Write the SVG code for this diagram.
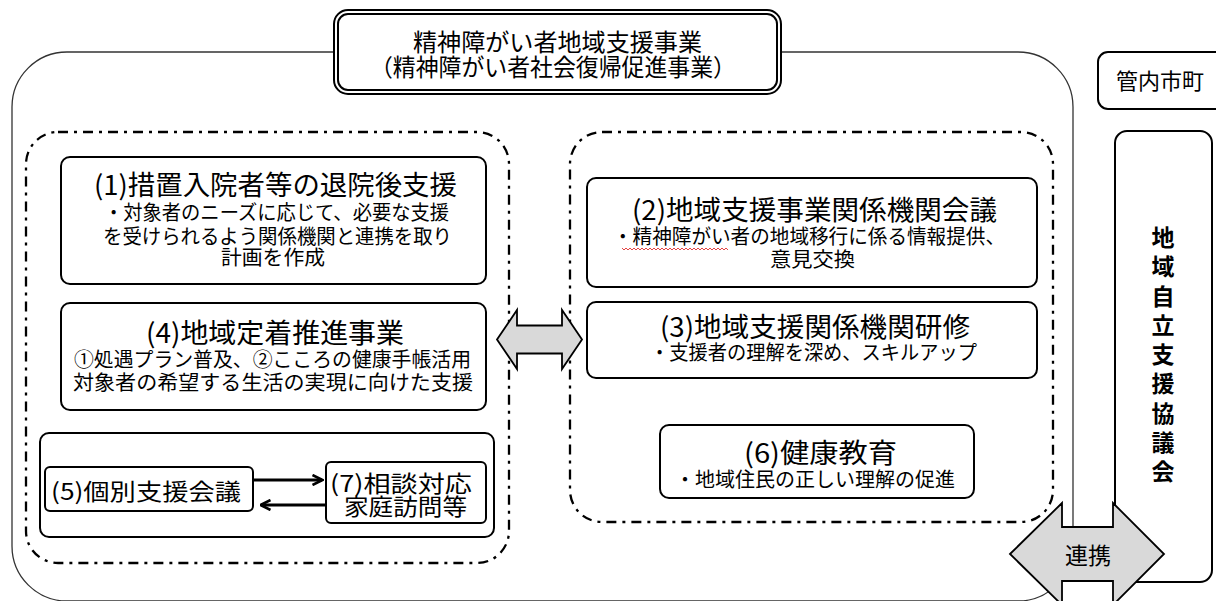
<svg xmlns="http://www.w3.org/2000/svg" width="1216" height="601" viewBox="0 0 1216 601">
<style>
text{font-family:"Noto Sans CJK JP","Noto Sans CJK SC",sans-serif;fill:#000;text-anchor:middle}
.t{font-size:27px}
.b{font-size:20px}
.box{fill:#fff;stroke:#000;stroke-width:2}
.dd{fill:none;stroke:#000;stroke-width:2.3;stroke-dasharray:10 6 3 6}
.big{fill:#d9d9d9;stroke:#000;stroke-width:1.8;stroke-linejoin:miter}
.con{fill:none;stroke:#000;stroke-width:3}
</style>
<defs>
<marker id="open" viewBox="0 0 12 12" refX="10.5" refY="6" markerWidth="12" markerHeight="12" markerUnits="userSpaceOnUse" orient="auto">
<path d="M1,1 L11,6 L1,11" fill="none" stroke="#000" stroke-width="2.6"/>
</marker>
</defs>

<g id="outer">
<rect x="12" y="52" width="1061" height="549" rx="55" fill="none" stroke="#333" stroke-width="1.3"/>
</g>

<g id="title">
<rect x="336" y="12" width="443" height="80" rx="12" fill="#fff" stroke="#000" stroke-width="6"/>
<rect x="336" y="12" width="443" height="80" rx="12" fill="none" stroke="#fff" stroke-width="2"/>
<text x="557.5" y="51" font-size="24" textLength="289" lengthAdjust="spacingAndGlyphs">精神障がい者地域支援事業</text>
<text x="553" y="76" font-size="24" textLength="366" lengthAdjust="spacingAndGlyphs">（精神障がい者社会復帰促進事業）</text>
</g>

<g id="left-container">
<rect class="dd" x="26" y="132" width="483" height="431" rx="32"/>
</g>
<g id="right-container">
<rect class="dd" x="570" y="132" width="483" height="390" rx="32"/>
</g>

<g id="node1">
<rect class="box" x="61" y="157" width="425" height="127" rx="9"/>
<text class="t" x="275.5" y="195" textLength="363" lengthAdjust="spacingAndGlyphs">(1)措置入院者等の退院後支援</text>
<text class="b" x="276.5" y="220" textLength="345" lengthAdjust="spacingAndGlyphs">・対象者のニーズに応じて、必要な支援</text>
<text class="b" x="277.5" y="244" textLength="349" lengthAdjust="spacingAndGlyphs">を受けられるよう関係機関と連携を取り</text>
<text class="b" x="273" y="265" textLength="104" lengthAdjust="spacingAndGlyphs">計画を作成</text>
</g>

<g id="node4">
<rect class="box" x="61" y="303" width="425" height="107" rx="9"/>
<text class="t" x="275" y="343" textLength="258" lengthAdjust="spacingAndGlyphs">(4)地域定着推進事業</text>
<text class="b" x="272.5" y="367" textLength="397" lengthAdjust="spacingAndGlyphs">①処遇プラン普及、②こころの健康手帳活用</text>
<text class="b" x="273" y="390" textLength="400" lengthAdjust="spacingAndGlyphs">対象者の希望する生活の実現に向けた支援</text>
</g>

<g id="group57">
<rect class="box" x="40" y="433" width="454" height="104" rx="9"/>
</g>
<g id="node5">
<rect class="box" x="45" y="467" width="208" height="44" rx="5"/>
<text x="146" y="500" font-size="23" textLength="190" lengthAdjust="spacingAndGlyphs">(5)個別支援会議</text>
</g>
<g id="node7">
<rect class="box" x="326" y="462" width="160" height="61" rx="5"/>
<text x="401" y="491.5" font-size="23" textLength="142" lengthAdjust="spacingAndGlyphs">(7)相談対応</text>
<text x="405.5" y="514.5" font-size="23" textLength="123" lengthAdjust="spacingAndGlyphs">家庭訪問等</text>
</g>

<g id="node2">
<rect class="box" x="587" y="178" width="450" height="109" rx="9"/>
<text class="t" x="814.5" y="220" textLength="365" lengthAdjust="spacingAndGlyphs">(2)地域支援事業関係機関会議</text>
<text class="b" x="809" y="244" textLength="392" lengthAdjust="spacingAndGlyphs">・精神障がい者の地域移行に係る情報提供、</text>
<text class="b" x="812.5" y="267" textLength="85" lengthAdjust="spacingAndGlyphs">意見交換</text>
<polyline points="622,248 624,250 626,248 628,250 630,248 632,250 634,248 636,250 638,248 640,250 642,248 644,250 646,248 648,250 650,248 652,250 654,248 656,250 658,248 660,250 662,248 664,250 666,248 668,250 670,248 672,250 674,248 676,250 678,248 680,250 682,248 684,250 686,248 688,250 690,248 692,250 694,248 696,250 698,248 700,250 702,248 704,250 706,248 708,250 710,248 712,250 714,248 716,250 718,248 720,250 722,248 724,250 726,248 728,250" fill="none" stroke="#e03030" stroke-width="0.9"/>
</g>

<g id="node3">
<rect class="box" x="587" y="302" width="450" height="76" rx="9"/>
<text class="t" x="815" y="337" textLength="310" lengthAdjust="spacingAndGlyphs">(3)地域支援関係機関研修</text>
<text class="b" x="813.5" y="360" textLength="327" lengthAdjust="spacingAndGlyphs">・支援者の理解を深め、スキルアップ</text>
</g>

<g id="node6">
<rect class="box" x="660" y="425" width="314" height="73" rx="9"/>
<text class="t" x="820.5" y="463" textLength="153" lengthAdjust="spacingAndGlyphs">(6)健康教育</text>
<text class="b" x="815" y="487" textLength="280" lengthAdjust="spacingAndGlyphs">・地域住民の正しい理解の促進</text>
</g>

<g id="kannai">
<rect class="box" x="1098" y="52" width="140" height="57" rx="10"/>
<text x="1160" y="89" font-size="22" textLength="88" lengthAdjust="spacingAndGlyphs">管内市町</text>
</g>

<g id="kyogikai">
<rect class="box" x="1115" y="131" width="97" height="451" rx="12"/>
<text x="1163" y="246" font-size="23" font-weight="bold">
<tspan x="1163">地</tspan><tspan x="1163" dy="29.25">域</tspan><tspan x="1163" dy="29.25">自</tspan><tspan x="1163" dy="29.25">立</tspan><tspan x="1163" dy="29.25">支</tspan><tspan x="1163" dy="29.25">援</tspan><tspan x="1163" dy="29.25">協</tspan><tspan x="1163" dy="29.25">議</tspan><tspan x="1163" dy="29.25">会</tspan>
</text>
</g>

<g id="connectors">
<polygon class="big" points="497,339.5 517,310 517,325.5 562,325.5 562,310 582,339.5 562,369 562,353.5 517,353.5 517,369"/>
<line class="con" x1="253" y1="480" x2="322" y2="480" marker-end="url(#open)"/>
<line class="con" x1="326" y1="505" x2="261" y2="505" marker-end="url(#open)"/>
<polygon class="big" points="1010,554 1062,503 1062,527 1113,527 1113,503 1164,554 1113,605 1113,581 1062,581 1062,605"/>
<text x="1088" y="564" font-size="23">連携</text>
</g>
</svg>
